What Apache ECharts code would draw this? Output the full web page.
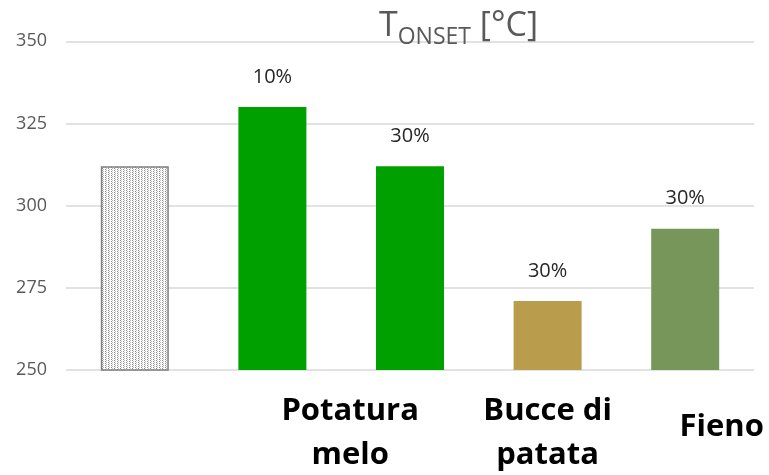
<!DOCTYPE html>
<html>
<head>
<meta charset="utf-8">
<script src="https://cdn.jsdelivr.net/npm/echarts@6/dist/echarts.min.js"></script>
<style>
  html, body { margin: 0; padding: 0; background: #ffffff; }
  #chart { width: 769px; height: 475px; }
</style>
</head>
<body>
<div id="chart"></div>
<script>
// Onset temperature by sample
const categories = ['Riferimento', 'Potatura melo 10%', 'Potatura melo 30%', 'Bucce di patata 30%', 'Fieno 30%'];
const onsetValues = [312, 330, 312, 271, 293];
const shareLabels = ['', '10%', '30%', '30%', '30%'];
const barColors = ['pattern', '#00a000', '#00a000', '#b99d4c', '#77975a'];
const yTicks = [250, 275, 300, 325, 350];
// material groups: caption and its centre as a (fractional) category index
const groupNames = ['Potatura\nmelo', 'Bucce di\npatata', 'Fieno'];
const groupCentre = [1.565, 3.0, 4.265];

// dotted fill for the reference bar
function dotPattern() {
  const c = document.createElement('canvas');
  c.width = 6; c.height = 4;
  const g = c.getContext('2d');
  g.fillStyle = '#ffffff';
  g.fillRect(0, 0, 6, 4);
  g.fillStyle = '#8c8c8c';
  g.fillRect(0, 0, 1, 1);
  g.fillRect(0, 2, 1, 1);
  g.fillRect(3, 1, 1, 1);
  g.fillRect(3, 3, 1, 1);
  g.fillStyle = '#bdbdbd';
  g.fillRect(1, 1, 1, 1);
  g.fillRect(1, 3, 1, 1);
  g.fillRect(4, 0, 1, 1);
  g.fillRect(4, 2, 1, 1);
  return c;
}

const chart = echarts.init(document.getElementById('chart'));

const seriesData = onsetValues.map((v, i) => {
  const item = { value: v, label: { formatter: shareLabels[i] } };
  if (barColors[i] === 'pattern') {
    item.itemStyle = {
      color: { image: dotPattern(), repeat: 'repeat' },
      borderColor: '#7f7f7f',
      borderWidth: 1.5
    };
  } else {
    item.itemStyle = { color: barColors[i] };
  }
  return item;
});

chart.setOption({
  animation: false,
  textStyle: { fontFamily: 'Open Sans' },
  title: {
    left: 374,
    top: 4,
    text: '{big|T}{sub|ONSET}{big| [°C]}',
    textStyle: {
      fontWeight: 'normal',
      rich: {
        big: { fontFamily: 'Open Sans', fontWeight: 'normal', fontSize: 34, color: '#595959', lineHeight: 40, verticalAlign: 'top', padding: [0, 0, 11, 0] },
        sub: { fontFamily: 'Open Sans', fontWeight: 'normal', fontSize: 23, color: '#595959', lineHeight: 23, verticalAlign: 'bottom' }
      }
    }
  },
  grid: { left: 66, right: 15, top: 41.3, bottom: 105, containLabel: false },
  xAxis: {
    type: 'category',
    data: categories,
    axisLine: { show: false },
    axisTick: { show: false },
    axisLabel: { show: false }
  },
  yAxis: {
    type: 'value',
    min: yTicks[0],
    max: yTicks[yTicks.length - 1],
    interval: 25,
    axisLine: { show: false },
    axisTick: { show: false },
    axisLabel: { color: '#595959', fontSize: 18, margin: 19, fontFamily: 'Open Sans' },
    splitLine: { lineStyle: { color: '#d9d9d9', width: 1.5 } }
  },
  series: [{
    type: 'bar',
    data: seriesData,
    barWidth: 68,
    label: {
      show: true,
      position: 'top',
      distance: 20,
      color: '#262626',
      fontSize: 20,
      fontFamily: 'Open Sans'
    }
  }]
});

// group captions placed under the bars they describe
function placeGroups() {
  const p0 = chart.convertToPixel({ xAxisIndex: 0 }, 0);
  const step = chart.convertToPixel({ xAxisIndex: 0 }, 1) - p0;
  const els = groupNames.map((name, i) => ({
    type: 'text',
    x: p0 + groupCentre[i] * step,
    y: name.indexOf('\n') >= 0 ? 389 : 405,
    style: {
      text: name,
      align: 'center',
      verticalAlign: 'top',
      font: 'bold 31px "Open Sans"',
      lineHeight: 44,
      fill: '#000000'
    }
  }));
  chart.setOption({ graphic: els });
}
placeGroups();
</script>
</body>
</html>
